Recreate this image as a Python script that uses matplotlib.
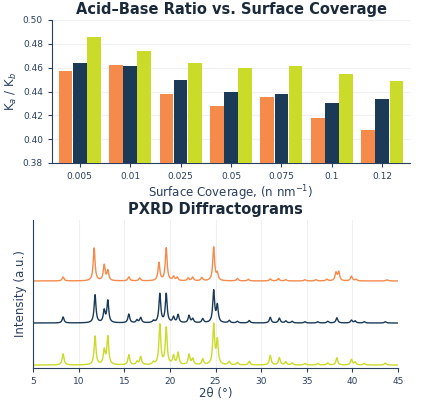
import numpy as np
import matplotlib
matplotlib.use("Agg")
import matplotlib.pyplot as plt

categories = ["0.005", "0.01", "0.025", "0.05", "0.075", "0.1", "0.12"]
series_a = [0.457, 0.462, 0.438, 0.428, 0.435, 0.418, 0.408]
series_b = [0.464, 0.461, 0.450, 0.440, 0.438, 0.430, 0.434]
series_c = [0.486, 0.474, 0.464, 0.460, 0.461, 0.455, 0.449]
colors = ["#F58A4B", "#1B3A57", "#CADB2A"]

# PXRD peak lists: (2theta, relative intensity)
peaks_orange = [(8.3,0.10),(11.7,0.82),(12.8,0.39),(13.2,0.25),(15.5,0.10),(16.7,0.07),
                (18.8,0.45),(19.6,0.82),(20.4,0.10),(20.8,0.08),(22.0,0.07),(22.5,0.09),
                (23.5,0.08),(24.8,0.84),(25.2,0.17),(27.4,0.06),(28.6,0.04),(31.0,0.05),
                (31.9,0.06),(32.7,0.03),(34.8,0.03),(36.0,0.03),(37.2,0.04),(38.2,0.20),
                (38.5,0.22),(39.9,0.12),(40.4,0.04),(43.8,0.03)]
peaks_navy = [(8.3,0.15),(11.8,0.70),(12.8,0.30),(13.2,0.55),(15.5,0.22),(16.4,0.07),
              (16.8,0.13),(18.2,0.05),(18.9,0.72),(19.6,0.72),(20.4,0.14),(20.9,0.20),
              (22.1,0.18),(22.5,0.10),(23.6,0.10),(24.8,0.80),(25.2,0.42),(26.5,0.06),
              (27.4,0.04),(28.7,0.06),(31.0,0.14),(32.0,0.12),(32.7,0.05),(33.4,0.04),
              (34.8,0.03),(36.2,0.03),(37.3,0.04),(38.3,0.13),(39.9,0.07),(40.3,0.05),
              (41.3,0.03),(43.6,0.03)]
peaks_yellow = [(8.3,0.28),(11.8,0.72),(12.8,0.36),(13.2,0.70),(15.5,0.25),(16.4,0.08),
                (16.8,0.20),(18.2,0.06),(18.9,1.00),(19.6,0.92),(20.4,0.22),(20.9,0.30),
                (22.1,0.25),(22.5,0.15),(23.6,0.14),(24.8,1.00),(25.2,0.60),(26.5,0.08),
                (27.4,0.06),(28.7,0.09),(31.0,0.24),(32.0,0.18),(32.7,0.08),(33.4,0.05),
                (34.8,0.04),(36.2,0.04),(37.3,0.05),(38.3,0.18),(39.9,0.14),(40.3,0.07),
                (41.3,0.04),(43.6,0.05)]
offsets = [2.0, 1.0, 0.0]

fig = plt.figure(figsize=(4.23, 4.0), dpi=100)
grid_c = "#EEF0F4"

def style(ax):
    for sp in ["top", "right"]:
        ax.spines[sp].set_visible(False)
    ax.spines["left"].set_color("#2A3F5F")
    ax.spines["bottom"].set_color("#2A3F5F")
    ax.tick_params(labelsize=6.5, colors="#2A3F5F", length=3)

# top
ax1 = fig.add_axes([52/423, 1-163/400, 358/423, 143/400])
x = np.arange(len(categories))
w = 0.27
for i, (s, c) in enumerate(zip([series_a, series_b, series_c], colors)):
    ax1.bar(x + (i-1)*(w+0.01), s, width=w, color=c, zorder=3)
ax1.set_ylim(0.38, 0.50)
ticks = np.arange(0.38, 0.501, 0.02)
ax1.set_yticks(ticks)
ax1.set_yticklabels([f"{v:.2f}" for v in ticks])
ax1.set_xticks(x)
ax1.set_xticklabels(categories)
ax1.set_xlim(-0.55, len(categories)-0.45)
ax1.grid(axis="y", color=grid_c, zorder=0)
ax1.set_title("Acid–Base Ratio vs. Surface Coverage", fontsize=10.5, fontweight="bold", color="#1B2A3A", pad=4)
ax1.set_xlabel("Surface Coverage, (n nm$^{-1}$)", fontsize=8.5, color="#2A3F5F", labelpad=2)
ax1.set_ylabel("K$_a$ / K$_b$", fontsize=8.5, color="#2A3F5F", labelpad=3)
style(ax1)

# bottom
ax2 = fig.add_axes([33/423, 1-368/400, 365/423, 148/400])
tt = np.linspace(5, 45, 4000)
gam = 0.12
for pk, off, c in zip([peaks_orange, peaks_navy, peaks_yellow], offsets, colors):
    y = np.zeros_like(tt)
    for pos, h in pk:
        y += h / (1 + ((tt - pos)/gam)**2)
    ax2.plot(tt, y*0.95 + off, color=c, lw=1.0)
ax2.set_xlim(5, 45)
ax2.set_ylim(-0.07, 3.45)
ax2.set_xticks(range(5, 46, 5))
ax2.set_yticks([])
ax2.grid(axis="x", color=grid_c)
ax2.set_title("PXRD Diffractograms", fontsize=10.5, fontweight="bold", color="#1B2A3A", pad=4)
ax2.set_xlabel("2θ (°)", fontsize=8.5, color="#2A3F5F", labelpad=1)
ax2.set_ylabel("Intensity (a.u.)", fontsize=8.5, color="#2A3F5F")
style(ax2)

fig.savefig("out.png", dpi=100)
